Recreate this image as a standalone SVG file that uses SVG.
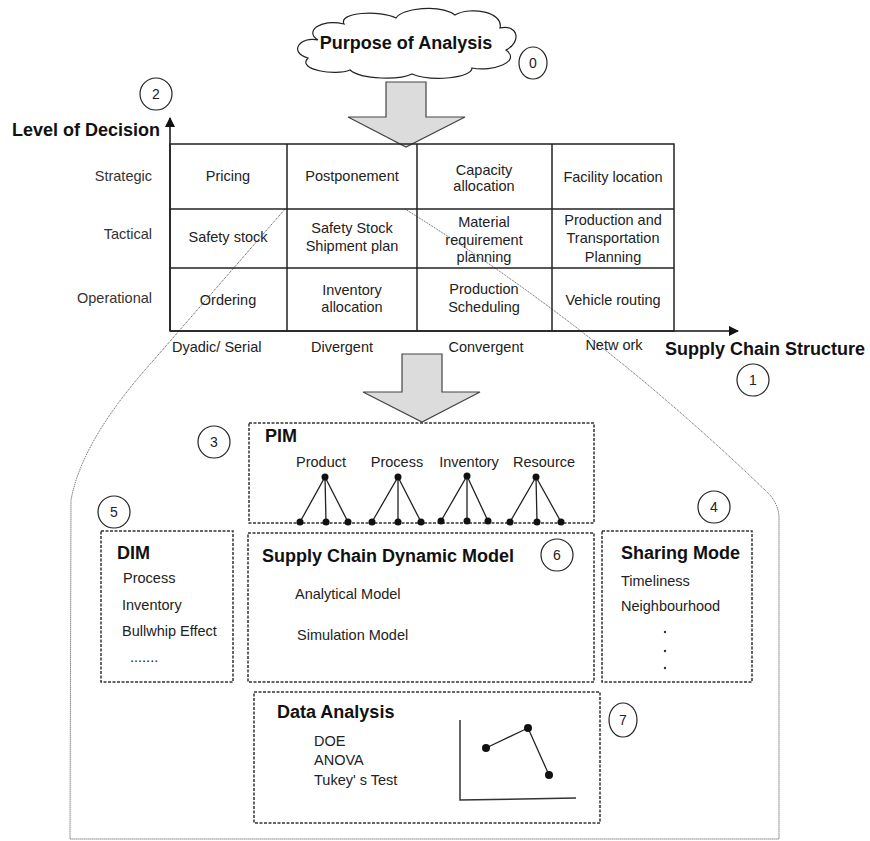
<svg xmlns="http://www.w3.org/2000/svg" width="870" height="841" viewBox="0 0 870 841">
  <style>
    text { font-family: "Liberation Sans", Arial, sans-serif; fill: #222; }
    .t { font-size: 14.5px; }
    .c { font-size: 14.5px; text-anchor: middle; }
    .r { font-size: 14.5px; text-anchor: end; fill: #333; }
    .b { font-size: 18px; font-weight: bold; fill: #111; }
    .n { font-size: 14px; text-anchor: middle; fill: #222; }
    .cell { fill: none; stroke: #222; stroke-width: 1.5; }
    .dash { fill: #fff; stroke: #333; stroke-width: 1.5; stroke-dasharray: 3 1.5; }
    .tag { fill: #fff; stroke: #222; stroke-width: 1.2; }
    .blk { fill: #dcdcdc; stroke: #444; stroke-width: 1.2; }
    .dot { fill: #111; }
    .edge { stroke: #222; stroke-width: 1.3; fill: none; }
  </style>
  <defs>
    <marker id="tri" viewBox="0 0 10 10" refX="9" refY="5" markerWidth="10" markerHeight="10" markerUnits="userSpaceOnUse" orient="auto">
      <path d="M0,0 L10,5 L0,10 Z" fill="#111"/>
    </marker>
  </defs>

  <rect width="870" height="841" fill="#fff"/>

  <!-- connectors: envelope outline, axes, block arrows -->
  <g id="connectors">
    <path d="M285,209 L152,362 Q82,440 71,500 L70,839 L779,839 L779,518 Q779,506 770,495 Q600,330 405,209" fill="none" stroke="#444" stroke-width="1" stroke-dasharray="1 1"/>
    <line x1="170" y1="331" x2="170" y2="118" stroke="#111" stroke-width="1.5" marker-end="url(#tri)"/>
    <line x1="170" y1="331" x2="738" y2="331" stroke="#111" stroke-width="1.5" marker-end="url(#tri)"/>
    <path class="blk" d="M386,82 L426,82 L426,117 L465,117 L406,147 L348,117 L386,117 Z"/>
    <path class="blk" d="M402,354 L442,354 L442,392 L480,392 L422,422 L363,392 L402,392 Z"/>
  </g>

  <!-- purpose cloud -->
  <g id="purpose">
    <path class="tag" d="M318,40 C300,36 288,52 308,58 C296,70 336,76 350,70 C362,80 400,80 412,74 C432,82 472,78 472,68 C492,72 522,62 506,50 C522,42 518,24 500,28 C504,12 470,6 455,15 C440,4 402,8 396,18 C380,10 338,12 344,24 C320,18 304,32 318,40 Z"/>
    <text class="b" x="406" y="49" text-anchor="middle">Purpose of Analysis</text>
  </g>

  <!-- axis titles -->
  <g id="axis-labels">
    <text class="b" x="12" y="136">Level of Decision</text>
    <text class="b" x="665" y="355">Supply Chain Structure</text>
    <text class="r" x="152" y="181">Strategic</text>
    <text class="r" x="152" y="239">Tactical</text>
    <text class="r" x="152" y="303">Operational</text>
    <text class="t" x="172" y="352" fill="#333">Dyadic/ Serial</text>
    <text class="c" x="342" y="352" fill="#333">Divergent</text>
    <text class="c" x="486" y="352" fill="#333">Convergent</text>
    <text class="c" x="614" y="350" fill="#333">Netw ork</text>
  </g>

  <!-- decision matrix -->
  <g id="matrix">
    <rect class="cell" x="170" y="144" width="504" height="187"/>
    <line class="cell" x1="170" y1="209" x2="674" y2="209"/>
    <line class="cell" x1="170" y1="268" x2="674" y2="268"/>
    <line class="cell" x1="287" y1="144" x2="287" y2="331"/>
    <line class="cell" x1="417" y1="144" x2="417" y2="331"/>
    <line class="cell" x1="552" y1="144" x2="552" y2="331"/>
    <text class="c" x="228" y="181">Pricing</text>
    <text class="c" x="352" y="181">Postponement</text>
    <text class="c" x="484" y="175">Capacity</text>
    <text class="c" x="484" y="191">allocation</text>
    <text class="c" x="613" y="182">Facility location</text>
    <text class="c" x="228" y="242">Safety stock</text>
    <text class="c" x="352" y="233">Safety Stock</text>
    <text class="c" x="352" y="251">Shipment plan</text>
    <text class="c" x="484" y="227">Material</text>
    <text class="c" x="484" y="245">requirement</text>
    <text class="c" x="484" y="262">planning</text>
    <text class="c" x="613" y="225">Production and</text>
    <text class="c" x="613" y="243">Transportation</text>
    <text class="c" x="613" y="262">Planning</text>
    <text class="c" x="228" y="305">Ordering</text>
    <text class="c" x="352" y="295">Inventory</text>
    <text class="c" x="352" y="312">allocation</text>
    <text class="c" x="484" y="294">Production</text>
    <text class="c" x="484" y="312">Scheduling</text>
    <text class="c" x="613" y="305">Vehicle routing</text>
  </g>

  <!-- PIM -->
  <g id="pim">
    <rect class="dash" x="249" y="423" width="345" height="100"/>
    <text class="b" x="265" y="442">PIM</text>
    <text class="c" x="321" y="467">Product</text>
    <text class="c" x="397" y="467">Process</text>
    <text class="c" x="469" y="467">Inventory</text>
    <text class="c" x="544" y="467">Resource</text>
    <path class="edge" d="M300,522 L325,477 L326,522 M325,477 L348,522"/>
    <path class="edge" d="M372,522 L398,477 L398,522 M398,477 L421,522"/>
    <path class="edge" d="M441,521 L467,476 L467,521 M467,476 L488,521"/>
    <path class="edge" d="M510,522 L536,477 L537,522 M536,477 L561,522"/>
    <g class="dot">
      <circle cx="325" cy="477" r="3.5"/><circle cx="300" cy="522" r="3.5"/><circle cx="326" cy="522" r="3.5"/><circle cx="348" cy="522" r="3.5"/>
      <circle cx="398" cy="477" r="3.5"/><circle cx="372" cy="522" r="3.5"/><circle cx="398" cy="522" r="3.5"/><circle cx="421" cy="522" r="3.5"/>
      <circle cx="467" cy="476" r="3.5"/><circle cx="441" cy="521" r="3.5"/><circle cx="467" cy="521" r="3.5"/><circle cx="488" cy="521" r="3.5"/>
      <circle cx="536" cy="477" r="3.5"/><circle cx="510" cy="522" r="3.5"/><circle cx="537" cy="522" r="3.5"/><circle cx="561" cy="522" r="3.5"/>
    </g>
  </g>

  <!-- DIM -->
  <g id="dim">
    <rect class="dash" x="101" y="531" width="132" height="151"/>
    <text class="b" x="117" y="559">DIM</text>
    <text class="t" x="123" y="583">Process</text>
    <text class="t" x="122" y="610">Inventory</text>
    <text class="t" x="122" y="636">Bullwhip Effect</text>
    <text class="t" x="130" y="662" font-size="10" fill="#555">.......</text>
  </g>

  <!-- Supply chain dynamic model -->
  <g id="scdm">
    <rect class="dash" x="248" y="533" width="346" height="149"/>
    <text class="b" x="262" y="562">Supply Chain Dynamic Model</text>
    <text class="t" x="295" y="599">Analytical Model</text>
    <text class="t" x="297" y="640">Simulation Model</text>
  </g>

  <!-- Sharing mode -->
  <g id="sharing">
    <rect class="dash" x="602" y="531" width="150" height="151"/>
    <text class="b" x="621" y="559">Sharing Mode</text>
    <text class="t" x="621" y="586">Timeliness</text>
    <text class="t" x="621" y="611">Neighbourhood</text>
    <circle cx="665" cy="632" r="1.2" fill="#333"/>
    <circle cx="665" cy="651" r="1.2" fill="#333"/>
    <circle cx="665" cy="668" r="1.2" fill="#333"/>
  </g>

  <!-- Data analysis -->
  <g id="data-analysis">
    <rect class="dash" x="254" y="692" width="346" height="131"/>
    <text class="b" x="277" y="718">Data Analysis</text>
    <text class="t" x="314" y="746" font-size="15">DOE</text>
    <text class="t" x="314" y="765" font-size="15">ANOVA</text>
    <text class="t" x="314" y="785" font-size="15">Tukey' s Test</text>
    <path d="M460,720 L460,800 L576,798" fill="none" stroke="#333" stroke-width="1.5"/>
    <path class="edge" d="M486,748 L528,728 L549,775"/>
    <g class="dot">
      <circle cx="486" cy="748" r="4"/><circle cx="528" cy="728" r="4"/><circle cx="549" cy="775" r="4"/>
    </g>
  </g>

  <!-- step numbers -->
  <g id="step-0"><ellipse class="tag" cx="533" cy="63" rx="14" ry="16"/><text class="n" x="533" y="68">0</text></g>
  <g id="step-1"><circle class="tag" cx="753" cy="380" r="16"/><text class="n" x="753" y="385">1</text></g>
  <g id="step-2"><circle class="tag" cx="156" cy="94" r="16"/><text class="n" x="156" y="99">2</text></g>
  <g id="step-3"><circle class="tag" cx="214" cy="442" r="16"/><text class="n" x="214" y="447">3</text></g>
  <g id="step-4"><circle class="tag" cx="714" cy="507" r="16"/><text class="n" x="714" y="512">4</text></g>
  <g id="step-5"><circle class="tag" cx="114" cy="512" r="16"/><text class="n" x="114" y="517">5</text></g>
  <g id="step-6"><circle class="tag" cx="557" cy="555" r="16"/><text class="n" x="557" y="560">6</text></g>
  <g id="step-7"><ellipse class="tag" cx="623" cy="720" rx="14" ry="17"/><text class="n" x="623" y="725">7</text></g>
</svg>
